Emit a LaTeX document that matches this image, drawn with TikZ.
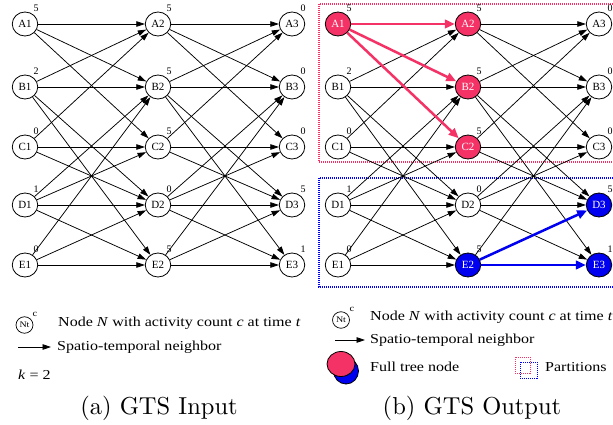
\documentclass[tikz,border=0pt]{standalone}
\usepackage{fontspec}
\newfontfamily\tms{Liberation Serif}
\newfontfamily\tmswide[FakeStretch=1.17]{Liberation Serif}
\newfontfamily\capfont{lmroman10-regular.otf}
\usetikzlibrary{shapes.geometric,arrows.meta}
\definecolor{treepink}{RGB}{245,50,102}
\definecolor{treeblue}{RGB}{0,0,240}

\begin{document}
\begin{tikzpicture}[x=1pt,y=-1pt,
  st/.style={ellipse,draw,line width=0.8pt,minimum width=25.5pt,minimum height=24pt,
    inner sep=0pt,font=\tms\fontsize{11}{12}\selectfont},
  pinknode/.style={st,fill=treepink,text=white},
  bluenode/.style={st,fill=treeblue,text=white},
  cnt/.style={font=\tms\fontsize{10}{11}\selectfont,inner sep=0pt},
  nb/.style={draw,line width=0.75pt,-{Triangle[length=8.5pt,width=5.5pt]}},
  pinkedge/.style={draw=treepink,line width=2.5pt,-{Triangle[length=10pt,width=8.5pt]}},
  blueedge/.style={draw=treeblue,line width=2.5pt,-{Triangle[length=10pt,width=8.5pt]}},
  leg/.style={font=\tmswide\fontsize{13.7}{15}\selectfont,inner sep=0pt,anchor=west},
  keynode/.style={ellipse,draw,line width=0.7pt,minimum width=17pt,minimum height=16.5pt,
    inner sep=0pt,font=\tmswide\fontsize{8.5}{9}\selectfont},
  subcaption/.style={font=\capfont\fontsize{24.5}{28}\selectfont,inner sep=0pt},
  part/.style={dash pattern=on 1pt off 1pt,line width=1.1pt}
]
\useasboundingbox (0,0) rectangle (613,425);

% ---------- partitions of the output graph ----------
\draw[part,draw=treepink] (319,4) rectangle (617,162);
\draw[part,draw=treeblue] (319,178) rectangle (617,287);

% ---------- input graph ----------
\foreach \n/\x/\y/\c in {A1/25/24/5, B1/25/87/2, C1/25/147/0, D1/25/205/1, E1/25/265/0,
                         A2/158/24/5, B2/158/87/5, C2/158/147/5, D2/158/205/0, E2/158/265/5,
                         A3/292/24/0, B3/292/87/0, C3/292/147/0, D3/292/205/5, E3/292/265/1} {
  \node[st] (l\n) at (\x,\y) {\n};
  \node[cnt] (lc\n) at (\x+11,\y-16) {\c};
}
\foreach \a/\b in {A/A,A/B,A/C,B/A,B/B,B/D,B/E,C/A,C/C,C/D,D/B,D/C,D/D,D/E,E/B,E/D,E/E} {
  \foreach \t/\u in {1/2,2/3} {
    \draw[nb] (l\a\t) -- (l\b\u);
  }
}

% ---------- output graph ----------
\foreach \n/\x/\y/\c/\s in {A1/338/24/5/pinknode, B1/338/87/2/st, C1/338/147/0/st, D1/338/205/1/st, E1/338/265/0/st,
                            A2/468/24/5/pinknode, B2/468/87/5/pinknode, C2/468/147/5/pinknode, D2/468/205/0/st, E2/468/265/5/bluenode,
                            A3/599/24/0/st, B3/599/87/0/st, C3/599/147/0/st, D3/599/205/5/bluenode, E3/599/265/1/bluenode} {
  \node[\s] (r\n) at (\x,\y) {\n};
  \node[cnt] (rc\n) at (\x+11,\y-16) {\c};
}
\foreach \a/\b in {B/A,B/B,B/D,B/E,C/A,C/C,C/D,D/B,D/C,D/D,D/E,E/B,E/D,E/E} {
  \draw[nb] (r\a1) -- (r\b2);
}
\foreach \a/\b in {A/A,A/B,A/C,B/A,B/B,B/D,B/E,C/A,C/C,C/D,D/B,D/C,D/D,D/E,E/B} {
  \draw[nb] (r\a2) -- (r\b3);
}
\foreach \b in {A,B,C} {
  \draw[pinkedge] (rA1) -- (r\b2);
}
\foreach \b in {D,E} {
  \draw[blueedge] (rE2) -- (r\b3);
}

% ---------- key of the input graph ----------
\node[keynode] (lkey) at (24.5,325) {Nt};
\node[cnt,font=\tmswide\fontsize{9}{10}\selectfont] (lkeyc) at (35,314) {c};
\node[leg] (lkeytxt) at (58,323) {Node \textit{N} with activity count \textit{c} at time \textit{t}};
\coordinate (la0) at (18,347);
\coordinate (la1) at (51,347);
\draw[nb] (la0) -- (la1);
\node[leg] (latxt) at (57,347) {Spatio-temporal neighbor};
\node[leg] (lk) at (18,375) {\textit{k} = 2};

% ---------- key of the output graph ----------
\node[keynode] (rkey) at (341,320) {Nt};
\node[cnt,font=\tmswide\fontsize{9}{10}\selectfont] (rkeyc) at (352,309) {c};
\node[leg] (rkeytxt) at (370,317) {Node \textit{N} with activity count \textit{c} at time \textit{t}};
\coordinate (ra0) at (335,340);
\coordinate (ra1) at (365,340);
\draw[nb] (ra0) -- (ra1);
\node[leg] (ratxt) at (370,340) {Spatio-temporal neighbor};
\node[ellipse,draw,line width=0.8pt,fill=treeblue,minimum width=25pt,minimum height=26pt] (bluekey) at (346,371) {};
\node[ellipse,draw,line width=0.8pt,fill=treepink,minimum width=28pt,minimum height=25pt] (pinkkey) at (341,364) {};
\node[leg] (fulltxt) at (370,367) {Full tree node};
\draw[part,draw=treepink,line width=0.9pt] (515,357) rectangle (530,373);
\draw[part,draw=treeblue,line width=0.9pt] (520,362) rectangle (537,378);
\node[leg] (parttxt) at (545,367) {Partitions};

% ---------- captions ----------
\node[subcaption] (capa) at (159,408) {(a) GTS Input};
\node[subcaption] (capb) at (472,408) {(b) GTS Output};
\end{tikzpicture}
\end{document}
